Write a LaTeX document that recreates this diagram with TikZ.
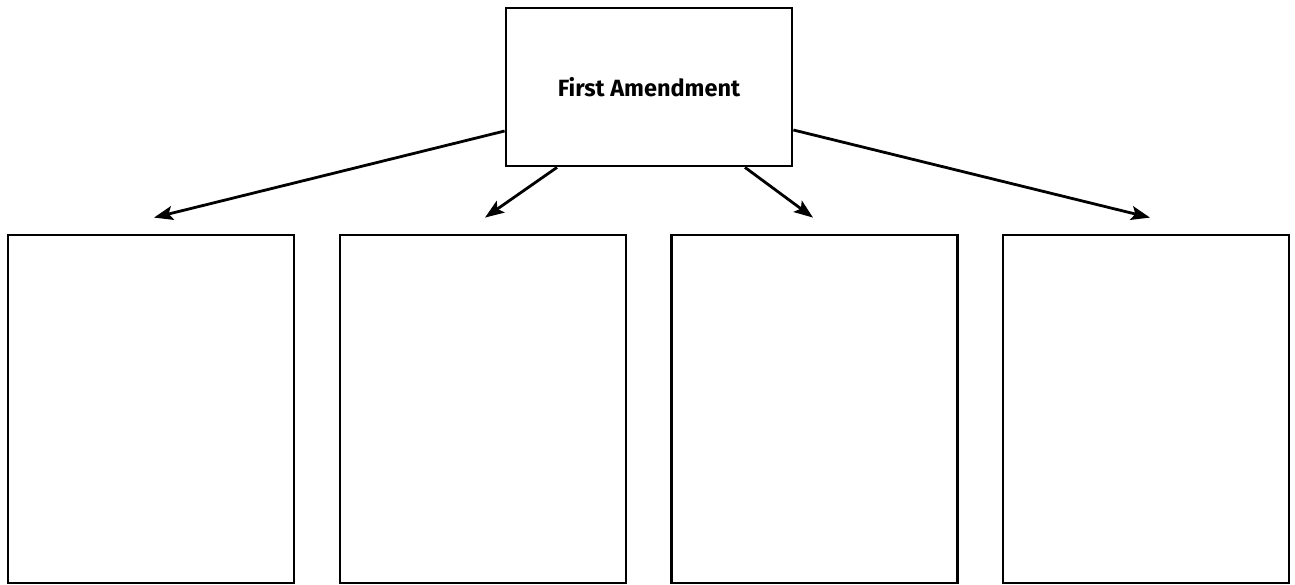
\documentclass[tikz,border=0pt]{standalone}
\usepackage{fontspec}
\setmainfont{Fira Sans}
\usetikzlibrary{arrows.meta}
\begin{document}
\begin{tikzpicture}[x=1pt,y=-1pt,
  box/.style={draw=black, line width=2.8pt, fill=white, rectangle, inner sep=0pt},
  topbox/.style={box, minimum width=286pt, minimum height=158pt,
    font=\fontsize{23.5}{28}\selectfont\bfseries},
  leaf/.style={box, minimum width=286pt, minimum height=348pt},
  link/.style={line width=2.8pt, -{Stealth[length=19pt,width=14pt,inset=4pt]}}
]
\useasboundingbox (0,0) rectangle (1295,584);

% central topic
\node[topbox] (top) at (649,87) {First Amendment};

% four empty boxes
\node[leaf] (b1) at (151,409) {};
\node[leaf] (b2) at (483,409) {};
\node[leaf] (b3) at (814.5,409) {};
\node[leaf] (b4) at (1146,409) {};

% arrow ends just above each box
\coordinate (t1) at ([xshift=3pt,yshift=16pt]b1.north);
\coordinate (t2) at ([xshift=2pt,yshift=16pt]b2.north);
\coordinate (t3) at ([xshift=-1.5pt,yshift=16pt]b3.north);
\coordinate (t4) at ([xshift=4pt,yshift=16pt]b4.north);

\draw[link] ([yshift=-44pt]top.west) -- (t1);
\draw[link] ([xshift=-92pt]top.south) -- (t2);
\draw[link] ([xshift=96pt]top.south) -- (t3);
\draw[link] ([yshift=-43pt]top.east) -- (t4);
\end{tikzpicture}
\end{document}
